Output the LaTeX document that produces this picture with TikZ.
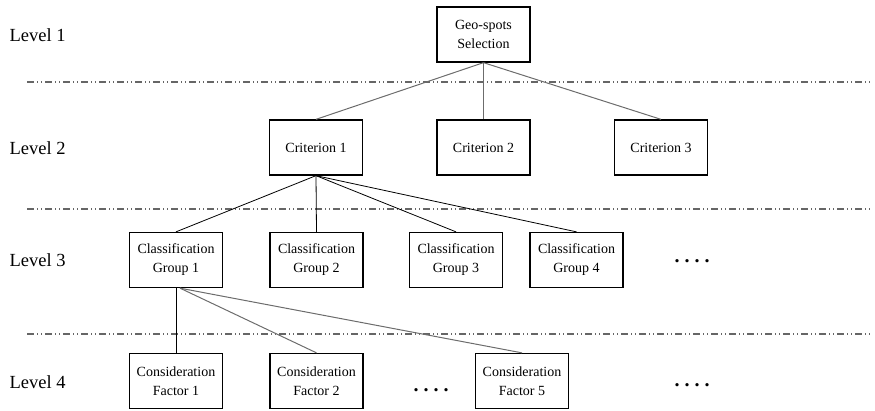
\documentclass[tikz,border=0pt]{standalone}
\usepackage{fontspec}
\setmainfont{Liberation Serif}
\usetikzlibrary{positioning, calc}

\tikzset{
	box/.style={draw, line width=1.3pt, minimum width=93pt, minimum height=55pt, align=center, inner sep=2pt, font=\fontsize{14}{19}\selectfont},
	lvl/.style={anchor=west, font=\fontsize{18.5}{20}\selectfont},
	dots/.style={font=\fontsize{20}{20}\selectfont\bfseries},
	sep/.style={line width=1.2pt, gray!80!black, dash pattern=on 7pt off 3pt on 1pt off 3pt on 1pt off 3pt},
	link/.style={line width=0.8pt},
	glink/.style={line width=1pt, gray!85!black}
}

\begin{document}
\begin{tikzpicture}[x=1pt, y=-1pt]
		\useasboundingbox (0,0) rectangle (875,410);
		% levels
		\node[lvl] (l1) at (6,35) {Level 1};
		\node[lvl] (l2) at (6,148) {Level 2};
		\node[lvl] (l3) at (6,260) {Level 3};
		\node[lvl] (l4) at (6,382) {Level 4};
		
		\coordinate (s1a) at (27,82);  \coordinate (s1b) at (872,82);
		\coordinate (s2a) at (27,209); \coordinate (s2b) at (872,209);
		\coordinate (s3a) at (27,334); \coordinate (s3b) at (872,334);
		\draw[sep] (s1a) -- (s1b);
		\draw[sep] (s2a) -- (s2b);
		\draw[sep] (s3a) -- (s3b);
		
		% nodes
		\node[box] (geo) at (483.5,34.5) {Geo-spots\\Selection};
		
		\node[box] (c1) at (316,147.5) {Criterion 1};
		\node[box] (c2) at (483.5,147.5) {Criterion 2};
		\node[box] (c3) at (661,147.5) {Criterion 3};
		
		\node[box] (g1) at (176,260) {Classification\\Group 1};
		\node[box] (g2) at (316.5,260) {Classification\\Group 2};
		\node[box] (g3) at (456,260) {Classification\\Group 3};
		\node[box] (g4) at (576.5,260) {Classification\\Group 4};
		\node[dots] (gdots) at (692,261) {.\ .\ .\ .};
		
		\node[box] (f1) at (176,381) {Consideration\\Factor 1};
		\node[box] (f2) at (316.5,381) {Consideration\\Factor 2};
		\node[dots] (fdots) at (431,390) {.\ .\ .\ .};
		\node[box] (f5) at (522,381) {Consideration\\Factor 5};
		\node[dots] (fdots2) at (692,385) {.\ .\ .\ .};
		
		% links
		\draw[glink] (geo.south) -- (c1.north);
		\draw[glink] (geo.south) -- (c2.north);
		\draw[glink] (geo.south) -- (c3.north);
		
		\foreach \g in {g1,g2,g3,g4}
			\draw[link] (c1.south) -- (\g.north);
		
		\draw[link] (g1.south) -- (f1.north);
		\draw[glink] ($(g1.south)+(4,0)$) -- (f2.north);
		\draw[glink] ($(g1.south)+(4,0)$) -- (f5.north);
	\end{tikzpicture}
\end{document}
